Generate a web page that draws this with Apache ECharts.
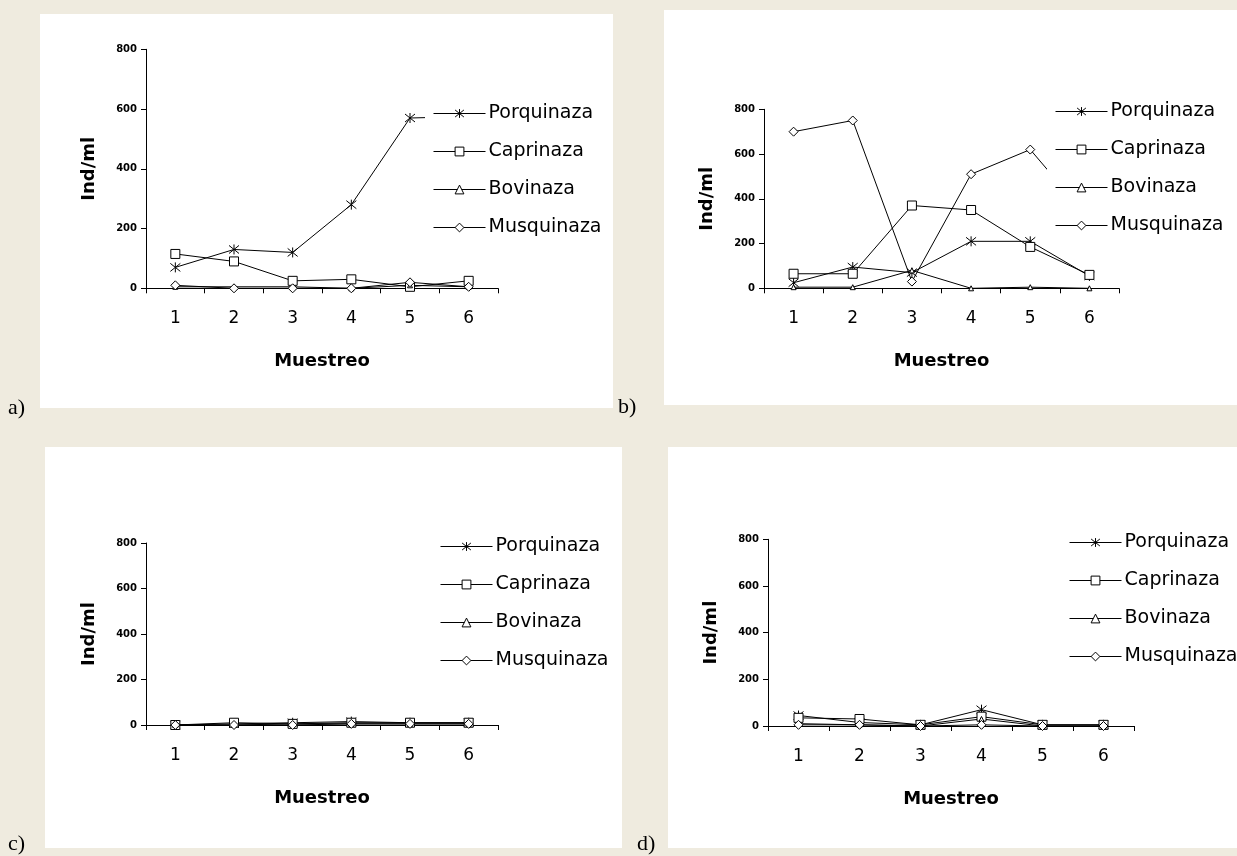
<!DOCTYPE html>
<html><head><meta charset="utf-8">
<script src="https://cdn.jsdelivr.net/npm/echarts@6/dist/echarts.min.js"></script>
<style>html,body{margin:0;padding:0;background:#EFEBDF}#c{width:1237px;height:856px}</style>
</head><body><div id="c"></div><script>
// ---- data ----
const categories = ['1', '2', '3', '4', '5', '6'];
const seriesNames = ['Porquinaza', 'Caprinaza', 'Bovinaza', 'Musquinaza'];
const yTicks = [0, 200, 400, 600, 800];
const panelLabels = ['a)', 'b)', 'c)', 'd)'];

const aPorquinaza = [70, 130, 120, 280, 570, 575];
const aCaprinaza  = [115, 90, 25, 30, 5, 25];
const aBovinaza   = [5, 5, 5, 0, 10, 5];
const aMusquinaza = [10, 0, 0, 0, 20, 5];

const bPorquinaza = [25, 95, 70, 210, 210, 55];
const bCaprinaza  = [65, 65, 370, 350, 185, 60];
const bBovinaza   = [5, 5, 80, 0, 5, 0];
const bMusquinaza = [700, 750, 30, 510, 620, 310];

const cPorquinaza = [0, 5, 10, 15, 10, 10];
const cCaprinaza  = [0, 10, 5, 10, 10, 10];
const cBovinaza   = [0, 0, 5, 5, 5, 5];
const cMusquinaza = [0, 0, 0, 5, 5, 5];

const dPorquinaza = [45, 15, 5, 70, 5, 5];
const dCaprinaza  = [35, 30, 5, 40, 5, 5];
const dBovinaza   = [10, 5, 0, 30, 0, 0];
const dMusquinaza = [5, 5, 0, 5, 0, 0];

const panelData = [
  [aPorquinaza, aCaprinaza, aBovinaza, aMusquinaza],
  [bPorquinaza, bCaprinaza, bBovinaza, bMusquinaza],
  [cPorquinaza, cCaprinaza, cBovinaza, cMusquinaza],
  [dPorquinaza, dCaprinaza, dBovinaza, dMusquinaza]
];

// ---- layout ----
const boxes = [
  {x: 40, y: 14, w: 573, h: 394},
  {x: 664, y: 10, w: 573, h: 395},
  {x: 45, y: 447, w: 577, h: 401},
  {x: 668, y: 447, w: 569, h: 401}
];
const labelPos = [[8, 397], [618, 396], [8, 833], [637, 833]];
const grids = [
  {left: 146, top: 49.3, width: 352, height: 239},
  {left: 764, top: 109.3, width: 355, height: 179},
  {left: 146, top: 543, width: 352, height: 182},
  {left: 768, top: 539.3, width: 366, height: 186.7}
];
const legendPos = [[425, 96], [1047, 94], [432, 529], [1061, 525]];

const symbols = [
  'path://M1,1L9,9M9,1L1,9M5,0L5,10',
  'rect',
  'triangle',
  'diamond'
];
const symbolSizes = [10, 9, 5, 9];

const FONT = 'DejaVu Sans';

const option = {
  backgroundColor: '#EFEBDF',
  animation: false,
  graphic: [],
  grid: [], xAxis: [], yAxis: [], legend: [], series: []
};

boxes.forEach((b, i) => {
  option.graphic.push({type: 'rect', silent: true, z: -10,
    shape: {x: b.x, y: b.y, width: b.w, height: b.h}, style: {fill: '#fff'}});
  option.graphic.push({type: 'text', silent: true, z: -5, x: labelPos[i][0], y: labelPos[i][1],
    style: {text: panelLabels[i], font: '22px "Liberation Serif"', fill: '#000'}});
});

grids.forEach((g, i) => {
  option.grid.push(Object.assign({containLabel: false}, g));
  option.xAxis.push({
    type: 'category', gridIndex: i, data: categories, boundaryGap: true,
    name: 'Muestreo', nameLocation: 'middle', nameGap: 64,
    nameTextStyle: {fontFamily: FONT, fontWeight: 'bold', fontSize: 18, color: '#000'},
    axisLine: {lineStyle: {color: '#000', width: 1}},
    axisTick: {show: true, length: 5, lineStyle: {color: '#000'}},
    axisLabel: {fontFamily: FONT, fontSize: 17, color: '#000', margin: 22},
    splitLine: {show: false}
  });
  option.yAxis.push({
    type: 'value', gridIndex: i, min: yTicks[0], max: yTicks[yTicks.length - 1], interval: 200,
    name: 'Ind/ml', nameLocation: 'middle', nameGap: 48, nameRotate: 90,
    nameTextStyle: {fontFamily: FONT, fontWeight: 'bold', fontSize: 18, color: '#000'},
    axisLine: {show: true, lineStyle: {color: '#000', width: 1}},
    axisTick: {show: true, length: 5, lineStyle: {color: '#000'}},
    axisLabel: {fontFamily: FONT, fontWeight: 'bold', fontSize: 10, color: '#000', margin: 9},
    splitLine: {show: false}
  });
  option.legend.push({
    orient: 'vertical', left: legendPos[i][0], top: legendPos[i][1],
    data: seriesNames, backgroundColor: '#fff', padding: 8,
    itemWidth: 52, itemHeight: 11, itemGap: 19,
    itemStyle: {borderWidth: 1},
    lineStyle: {width: 1},
    textStyle: {fontFamily: FONT, fontSize: 19, color: '#000', lineHeight: 19, padding: [0, 0, 0, -2]},
    selectedMode: false
  });
  panelData[i].forEach((vals, s) => {
    option.series.push({
      type: 'line', name: seriesNames[s], xAxisIndex: i, yAxisIndex: i,
      data: vals, symbol: symbols[s], symbolSize: symbolSizes[s], showAllSymbol: true,
      lineStyle: {color: '#000', width: 1},
      itemStyle: {color: s === 0 ? 'none' : '#fff', borderColor: '#000', borderWidth: 1},
      emphasis: {disabled: true}
    });
  });
});

const chart = echarts.init(document.getElementById('c'));
chart.setOption(option);
</script></body></html>
